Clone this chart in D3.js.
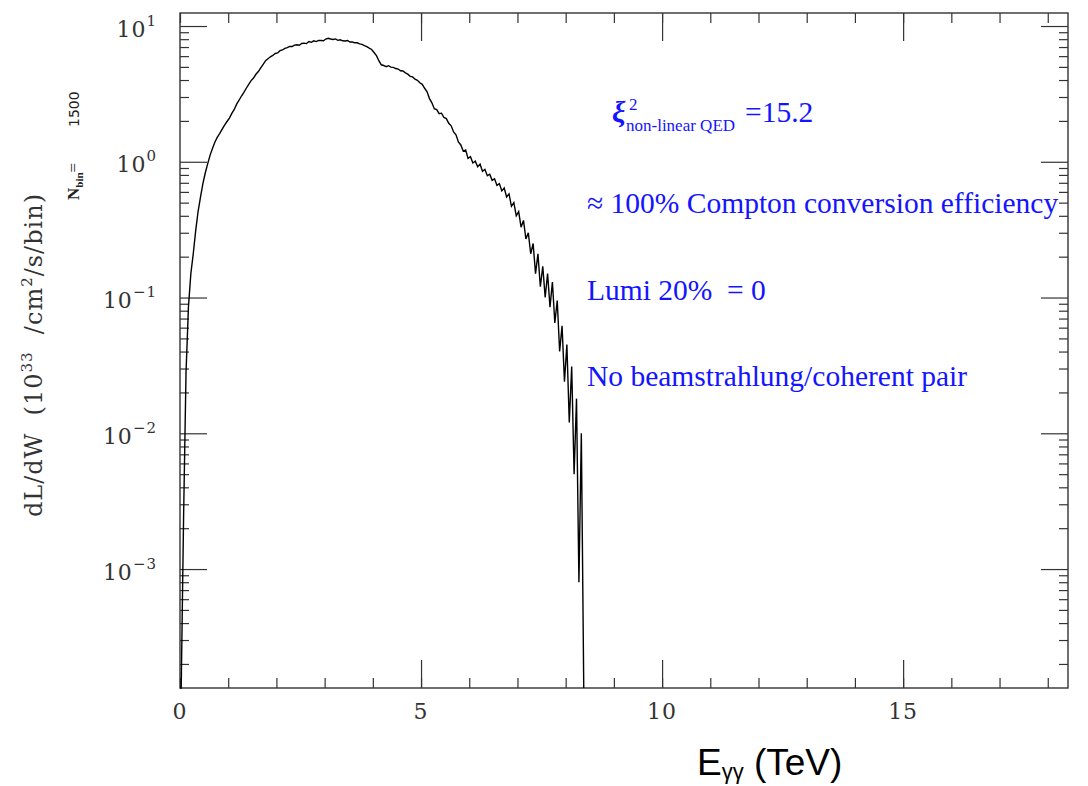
<!DOCTYPE html>
<html>
<head>
<meta charset="utf-8">
<script src="https://cdn.jsdelivr.net/npm/d3@7"></script>
<style>
  body { margin: 0; background: #fff; }
  text { white-space: pre; }
</style>
</head>
<body>
<script>
// histogram of dL/dW, one value per 0.05 TeV bin starting at E = 0
var binWidth = 0.05;
var dLdW = [
  0.0001, 0.0025, 0.028, 0.085, 0.15, 0.21, 0.31, 0.43, 0.55, 0.69,
  0.83, 0.97, 1.12, 1.26, 1.40, 1.52, 1.62, 1.74, 1.86, 1.98,
  2.10, 2.27, 2.43, 2.66, 2.84, 3.05, 3.24, 3.48, 3.72, 3.96,
  4.14, 4.41, 4.62, 4.91, 5.22, 5.56, 5.74, 5.93, 6.07, 6.28,
  6.33, 6.58, 6.66, 6.84, 6.92, 7.08, 7.06, 7.24, 7.28, 7.22,
  7.44, 7.48, 7.42, 7.68, 7.58, 7.78, 7.68, 7.84, 7.82, 7.78,
  8.02, 8.12, 8.02, 7.96, 8.04, 7.84, 7.92, 7.78, 7.76, 7.82,
  7.62, 7.62, 7.52, 7.52, 7.38, 7.32, 7.18, 7.06, 6.88, 6.72,
  6.38, 6.05, 5.55, 5.18, 5.12, 5.02, 5.10, 4.98, 4.96, 4.86,
  4.82, 4.68, 4.66, 4.52, 4.42, 4.26, 4.22, 4.06, 3.98, 3.82,
  3.72, 3.48, 3.28, 2.92, 2.72, 2.46, 2.42, 2.26, 2.28, 2.12,
  2.08, 1.92, 1.84, 1.66, 1.58, 1.40, 1.33, 1.20, 1.22, 1.06,
  1.09, 0.98, 1.01, 0.92, 0.96, 0.85, 0.88, 0.79, 0.81, 0.73,
  0.75, 0.67, 0.69, 0.61, 0.64, 0.55, 0.58, 0.47, 0.50, 0.40,
  0.43, 0.33, 0.37, 0.27, 0.30, 0.21, 0.25, 0.15, 0.21, 0.12,
  0.17, 0.10, 0.15, 0.085, 0.13, 0.065, 0.095, 0.040, 0.062, 0.024,
  0.045, 0.012, 0.031, 0.005, 0.018, 0.0008, 0.010, 0.0001
];

var xTickLabels = [0, 5, 10, 15];
var xMajorTicks = [5, 10, 15];
var yExponents = [1, 0, -1, -2, -3];

var notes = [
  { x: 587, y: 213, text: "\u2248 100% Compton conversion efficiency" },
  { x: 587, y: 300, text: "Lumi 20%  = 0" },
  { x: 587, y: 386, text: "No beamstrahlung/coherent pair" }
];

var margin = { top: 13, right: 20, bottom: 98, left: 180 };
var width = 1088 - margin.left - margin.right;
var height = 786 - margin.top - margin.bottom;

var axisColor = "#333";
var tickFont = "'DejaVu Serif', serif";

var x = d3.scaleLinear().domain([0, 18.42]).range([0, width]);
var y = d3.scaleLog().domain([1.33e-4, 12.47]).range([height, 0]).clamp(true);

var svg = d3.select("body").append("svg")
  .attr("width", 1088)
  .attr("height", 786);

var plot = svg.append("g")
  .attr("transform", "translate(" + margin.left + "," + margin.top + ")");

// ticks: minor every 1 TeV, major at 5, 10, 15
var xMinor = x.ticks(18);
function tickAxis(axis, values, size) {
  return axis.tickValues(values).tickSize(size).tickFormat("");
}
function styleAxis(g) {
  g.select(".domain").remove();
  g.selectAll("line").attr("stroke", axisColor).attr("stroke-width", 1.2);
}

plot.append("g").attr("transform", "translate(0," + height + ")")
  .call(tickAxis(d3.axisBottom(x), xMinor, -10)).call(styleAxis);
plot.append("g").attr("transform", "translate(0," + height + ")")
  .call(tickAxis(d3.axisBottom(x), xMajorTicks, -28)).call(styleAxis);
plot.append("g")
  .call(tickAxis(d3.axisTop(x), xMinor, -10)).call(styleAxis);
plot.append("g")
  .call(tickAxis(d3.axisTop(x), xMajorTicks, -28)).call(styleAxis);

var yAll = y.ticks();
var yMajor = yAll.filter(function (v) { return Math.abs(Math.log10(v) - Math.round(Math.log10(v))) < 1e-6; });
var yMinor = yAll.filter(function (v) { return yMajor.indexOf(v) < 0; });

plot.append("g").call(tickAxis(d3.axisLeft(y), yMinor, -9)).call(styleAxis);
plot.append("g").call(tickAxis(d3.axisLeft(y), yMajor, -27)).call(styleAxis);
plot.append("g").attr("transform", "translate(" + width + ",0)")
  .call(tickAxis(d3.axisRight(y), yMinor, -9)).call(styleAxis);
plot.append("g").attr("transform", "translate(" + width + ",0)")
  .call(tickAxis(d3.axisRight(y), yMajor, -27)).call(styleAxis);

// frame
plot.append("rect")
  .attr("width", width)
  .attr("height", height)
  .attr("fill", "none")
  .attr("stroke", axisColor)
  .attr("stroke-width", 1.4);

// x tick labels
plot.selectAll(".xlabel").data(xTickLabels).enter().append("text")
  .attr("x", function (d) { return x(d); })
  .attr("y", height + 31)
  .attr("text-anchor", "middle")
  .attr("font-family", tickFont)
  .attr("font-size", 22)
  .attr("letter-spacing", 1)
  .attr("fill", axisColor)
  .text(function (d) { return d; });

// y tick labels 10^n
var ylab = plot.selectAll(".ylabel").data(yExponents).enter().append("text")
  .attr("x", -23)
  .attr("y", function (d) { return y(Math.pow(10, d)) + 10.5; })
  .attr("text-anchor", "end")
  .attr("font-family", tickFont)
  .attr("font-size", 22)
  .attr("letter-spacing", 1)
  .attr("fill", axisColor);
ylab.append("tspan").text("10");
ylab.append("tspan")
  .attr("dy", -11)
  .attr("font-size", 15)
  .text(function (d) { return d < 0 ? "\u2212" + (-d) : d; });

// histogram drawn through the bin centres
var points = dLdW.map(function (v, i) { return [(i + 0.5) * binWidth, v]; });
points.unshift([0, dLdW[0]]);

var line = d3.line()
  .x(function (d) { return x(d[0]); })
  .y(function (d) { return y(d[1]); });

plot.append("path")
  .datum(points)
  .attr("d", line)
  .attr("fill", "none")
  .attr("stroke", "#000")
  .attr("stroke-width", 1.4)
  .attr("stroke-linejoin", "miter");

// y axis title
var ytitle = svg.append("text")
  .attr("transform", "translate(42,355) rotate(-90)")
  .attr("text-anchor", "middle")
  .attr("font-family", tickFont)
  .attr("font-size", 24)
  .attr("letter-spacing", 1)
  .attr("fill", axisColor);
ytitle.append("tspan").text("dL/dW  (10");
ytitle.append("tspan").attr("dy", -10).attr("font-size", 15).text("33");
ytitle.append("tspan").attr("dy", 10).text("  /cm");
ytitle.append("tspan").attr("dy", -10).attr("font-size", 15).text("2");
ytitle.append("tspan").attr("dy", 10).text("/s/bin)");

// N_bin note
var nbin = svg.append("text")
  .attr("transform", "translate(79,200) rotate(-90)")
  .attr("font-family", "'Liberation Serif', serif")
  .attr("font-weight", "bold")
  .attr("font-size", 17)
  .attr("fill", "#222");
nbin.append("tspan").text("N");
nbin.append("tspan").attr("dy", 4).attr("font-size", 11).text("bin");
nbin.append("tspan").attr("dy", -4).attr("font-weight", "normal").text("=");

svg.append("text")
  .attr("transform", "translate(79,127) rotate(-90)")
  .attr("font-family", "'DejaVu Sans', sans-serif")
  .attr("font-size", 14)
  .attr("fill", "#222")
  .text("1500");

// blue annotations
var blue = "#1414ff";
var xi = svg.append("text")
  .attr("x", 612)
  .attr("y", 122)
  .attr("font-family", "'Liberation Serif', serif")
  .attr("fill", blue);
xi.append("tspan").attr("font-size", 30).attr("font-weight", "bold").attr("font-style", "italic").text("\u03be");
xi.append("tspan").attr("x", 629).attr("y", 110).attr("font-size", 17).text("2");
xi.append("tspan").attr("x", 626).attr("y", 131).attr("font-size", 17).text("non-linear QED");
xi.append("tspan").attr("x", 745).attr("y", 122).attr("font-size", 29.5).text("=15.2");

svg.selectAll(".note").data(notes).enter().append("text")
  .attr("x", function (d) { return d.x; })
  .attr("y", function (d) { return d.y; })
  .attr("font-family", "'Liberation Serif', serif")
  .attr("font-size", 29.5)
  .attr("fill", blue)
  .text(function (d) { return d.text; });

// x axis title
var xtitle = svg.append("text")
  .attr("x", 697)
  .attr("y", 775)
  .attr("font-family", "'Liberation Sans', Arial, sans-serif")
  .attr("font-size", 37)
  .attr("fill", "#000");
xtitle.append("tspan").text("E");
xtitle.append("tspan").attr("dy", 4).attr("font-size", 22).text("\u03b3\u03b3");
xtitle.append("tspan").attr("dy", -4).text(" (TeV)");
</script>
</body>
</html>
